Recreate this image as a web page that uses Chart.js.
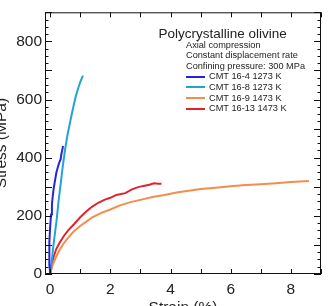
<!DOCTYPE html>
<html>
<head>
<meta charset="utf-8">
<script src="https://cdn.jsdelivr.net/npm/chart.js@4.4.1/dist/chart.umd.min.js"></script>
<style>
  html, body { margin: 0; padding: 0; background: #fff; }
  canvas { display: block; }
</style>
</head>
<body>
<canvas id="grafico" width="329" height="306"></canvas>
<script>
// Curvas tensão-deformação (strain %, stress MPa)
var serieNomes = ['CMT 16-4 1273 K', 'CMT 16-8 1273 K', 'CMT 16-9 1473 K', 'CMT 16-13 1473 K'];
var serieCores = ['#2424dc', '#23a2d6', '#f48c4c', '#e2222c'];

var cmt16_4 = [[0,0],[-0.02,30],[-0.03,70],[-0.02,110],[0.0,160],[0.03,205],[0.06,240],[0.09,270],
  [0.12,295],[0.16,320],[0.21,350],[0.27,372],[0.31,385],[0.35,395],[0.37,410],[0.40,425],[0.43,440]];
var cmt16_8 = [[0,0],[0.05,40],[0.1,90],[0.16,140],[0.22,190],[0.28,250],[0.35,310],[0.42,370],
  [0.50,430],[0.58,480],[0.66,520],[0.75,565],[0.85,610],[0.95,645],[1.02,665],[1.09,682]];
var cmt16_9 = [[0,0],[0.08,30],[0.18,55],[0.3,80],[0.45,105],[0.6,125],[0.8,148],[1.0,165],[1.2,180],
  [1.4,195],[1.7,210],[2.0,222],[2.3,235],[2.7,248],[3.0,255],[3.4,265],[3.8,272],[4.2,280],[4.6,286],
  [5.0,292],[5.5,297],[6.0,302],[6.5,306],[7.0,309],[7.5,312],[8.0,316],[8.3,318],[8.6,320]];
var cmt16_13 = [[0,0],[0.05,30],[0.12,60],[0.2,85],[0.3,105],[0.45,130],[0.6,150],[0.8,172],[1.0,195],
  [1.2,215],[1.4,232],[1.6,245],[1.8,255],[2.0,262],[2.2,272],[2.5,278],[2.7,290],[2.9,298],[3.1,303],
  [3.3,307],[3.45,312],[3.6,310],[3.7,310]];

var xRotulos = [0, 2, 4, 6, 8];
var yRotulos = [0, 200, 400, 600, 800];
var xMarcas = [0,1,2,3,4,5,6,7,8,9];
var yMarcas = [0,100,200,300,400,500,600,700,800,900];
var yMenores = [25,50,75,125,150,175,225,250,275,325,350,375,425,450,475,525,550,575,625,650,675,725,750,775,825,850,875];

var textoTitulo = 'Polycrystalline olivine';
var textoNotas = ['Axial compression', 'Constant displacement rate', 'Confining pressure: 300 MPa'];

var fonte = '"Liberation Sans", Arial, sans-serif';

function paraPontos(lista) {
    return lista.map(function (p) { return { x: p[0], y: p[1] }; });
}

var todasSeries = [cmt16_4, cmt16_8, cmt16_9, cmt16_13];
var datasets = todasSeries.map(function (s, i) {
    return {
        label: serieNomes[i],
        data: paraPontos(s),
        showLine: true,
        borderColor: serieCores[i],
        backgroundColor: serieCores[i],
        borderWidth: 2,
        pointRadius: 0,
        tension: 0
    };
});

// Moldura, marcas internas e textos
var decoracao = {
    id: 'decoracao',
    afterDatasetsDraw: function (chart) {
        var ctx = chart.ctx;
        var a = chart.chartArea;
        var sx = chart.scales.x, sy = chart.scales.y;
        ctx.save();
        ctx.strokeStyle = '#111';
        ctx.lineWidth = 1;
        ctx.strokeRect(a.left + 0.5, a.top + 0.5, a.right - a.left - 1, a.bottom - a.top - 1);

        ctx.beginPath();
        xMarcas.forEach(function (v) {
            var px = Math.round(sx.getPixelForValue(v)) + 0.5;
            ctx.moveTo(px, a.bottom); ctx.lineTo(px, a.bottom - 5);
            ctx.moveTo(px, a.top); ctx.lineTo(px, a.top + 5);
        });
        yMarcas.forEach(function (v) {
            var py = Math.round(sy.getPixelForValue(v)) + 0.5;
            ctx.moveTo(a.left, py); ctx.lineTo(a.left + 7, py);
            ctx.moveTo(a.right, py); ctx.lineTo(a.right - 7, py);
        });
        yMenores.forEach(function (v) {
            var py = Math.round(sy.getPixelForValue(v)) + 0.5;
            ctx.moveTo(a.left, py); ctx.lineTo(a.left + 3.5, py);
            ctx.moveTo(a.right, py); ctx.lineTo(a.right - 3.5, py);
        });
        ctx.stroke();

        // títulos dos eixos
        ctx.fillStyle = '#222';
        ctx.font = '15.5px ' + fonte;
        ctx.textAlign = 'center';
        ctx.textBaseline = 'alphabetic';
        ctx.fillText('Strain (%)', (a.left + a.right) / 2, 312);
        ctx.save();
        ctx.translate(6, (a.top + a.bottom) / 2);
        ctx.rotate(-Math.PI / 2);
        ctx.fillText('Stress (MPa)', 0, 0);
        ctx.restore();

        // anotação e legenda
        ctx.textAlign = 'left';
        ctx.textBaseline = 'alphabetic';
        ctx.font = '13.5px ' + fonte;
        ctx.fillText(textoTitulo, 158.5, 38);
        ctx.font = '9.2px ' + fonte;
        ctx.textBaseline = 'middle';
        var yLinha = 45;
        textoNotas.forEach(function (t) {
            ctx.fillText(t, 186, yLinha);
            yLinha += 10.6;
        });
        serieNomes.forEach(function (nome, i) {
            ctx.strokeStyle = serieCores[i];
            ctx.lineWidth = 2;
            ctx.beginPath();
            ctx.moveTo(186, Math.round(yLinha));
            ctx.lineTo(205, Math.round(yLinha));
            ctx.stroke();
            ctx.fillText(nome, 209, yLinha);
            yLinha += 10.6;
        });
        ctx.restore();
    }
};

var ctxGrafico = document.getElementById('grafico').getContext('2d');
var grafico = new Chart(ctxGrafico, {
    type: 'scatter',
    data: { datasets: datasets },
    options: {
        responsive: false,
        animation: false,
        devicePixelRatio: 1,
        layout: { padding: { top: 5, right: 8, left: 0, bottom: 0 } },
        plugins: { legend: { display: false }, tooltip: { enabled: false } },
        scales: {
            x: {
                type: 'linear',
                min: -0.17,
                max: 9.0,
                afterFit: function (s) { s.height = 32; },
                afterBuildTicks: function (s) {
                    s.ticks = xRotulos.map(function (v) { return { value: v }; });
                },
                grid: { display: false, drawTicks: false },
                border: { display: false },
                ticks: {
                    padding: 6,
                    color: '#222',
                    font: { family: fonte, size: 15.5 },
                    autoSkip: false,
                    maxRotation: 0
                }
            },
            y: {
                type: 'linear',
                min: 0,
                max: 900,
                afterFit: function (s) { s.width = 45; },
                afterBuildTicks: function (s) {
                    s.ticks = yRotulos.map(function (v) { return { value: v }; });
                },
                grid: { display: false, drawTicks: false },
                border: { display: false },
                ticks: {
                    padding: 3,
                    color: '#222',
                    font: { family: fonte, size: 15.5 },
                    autoSkip: false
                }
            }
        }
    },
    plugins: [decoracao]
});
</script>
</body>
</html>
